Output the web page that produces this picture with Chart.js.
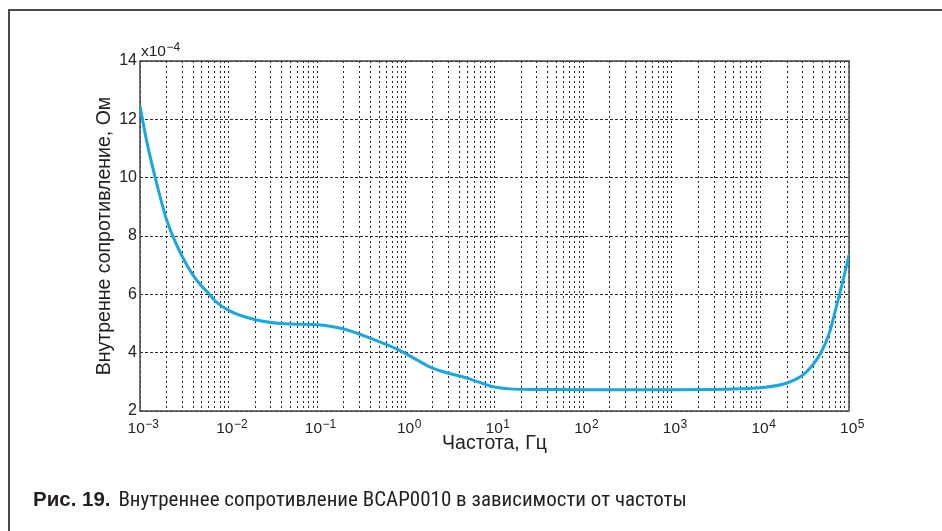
<!DOCTYPE html>
<html lang="ru">
<head>
<meta charset="utf-8">
<script src="https://cdn.jsdelivr.net/npm/chart.js@4"></script>
<style>
  html, body { margin: 0; padding: 0; background: #fff; }
  #wrap { position: relative; width: 942px; height: 531px; overflow: hidden; }
  #frame {
    position: absolute; left: 8px; top: 9px; width: 1000px; height: 600px;
    border-left: 2px solid #4a4a4a; border-top: 2px solid #4a4a4a;
  }
  #chart { position: absolute; left: 0; top: 0; }
  #caption {
    position: absolute; left: 33px; top: 487px;
    font-family: "Liberation Sans Narrow", "Roboto Condensed", "Liberation Sans", sans-serif;
    font-size: 21px; color: #231f20; white-space: nowrap;
  }
  #caption b { font-family: "Liberation Sans", Arial, sans-serif; font-weight: 900; font-size: 20.5px; margin-right: 3px; }
</style>
</head>
<body>
<div id="wrap">
  <div id="frame"></div>
  <canvas id="chart" width="942" height="531"></canvas>
  <div id="caption"><b>Рис. 19.</b> Внутреннее сопротивление BCAP0010 в зависимости от частоты</div>
</div>
<script>
// frequency, Hz
const frequency = [1e-3, 1.2e-3, 1.5e-3, 2e-3, 3e-3, 4e-3, 5e-3, 6e-3, 7e-3, 1e-2, 2e-2, 5e-2,
    0.1, 0.2, 0.4, 0.85, 1.3, 2, 5, 10, 16, 30, 100, 1000, 6000,
    1e4, 2e4, 3.2e4, 4.8e4, 6e4, 7.2e4, 8.6e4, 1e5];
// internal resistance, x10^-4 Ohm
const resistance = [12.45, 11.2, 9.95, 8.55, 7.29, 6.64, 6.27, 6.02, 5.78, 5.45, 5.13, 4.98,
    4.96, 4.81, 4.49, 4.08, 3.77, 3.47, 3.12, 2.82, 2.75, 2.74, 2.73, 2.73, 2.76,
    2.8, 2.96, 3.3, 3.99, 4.67, 5.58, 6.5, 7.35];
const xTickExponents = [-3, -2, -1, 0, 1, 2, 3, 4, 5];
const yTicks = [2, 4, 6, 8, 10, 12, 14];
const yMultiplierExp = -4;

const FONT = '"Liberation Sans", Arial, sans-serif';

// every 1..9 x 10^k position for the log grid
const xGridValues = [];
xTickExponents.forEach(function(e, i) {
    const last = i === xTickExponents.length - 1;
    for (let m = 1; m <= (last ? 1 : 9); m++) {
        xGridValues.push(m * Math.pow(10, e));
    }
});

function supLabel(ctx, x, y, exp, align) {
    const base = '10';
    const sup = String(exp).replace('-', '\u2212');
    ctx.font = '15.5px ' + FONT;
    const wb = ctx.measureText(base).width;
    ctx.font = '12px ' + FONT;
    const ws = ctx.measureText(sup).width;
    let x0 = align === 'center' ? x - (wb + ws) / 2 : x;
    ctx.textBaseline = 'alphabetic';
    ctx.textAlign = 'left';
    ctx.font = '15.5px ' + FONT;
    ctx.fillText(base, x0, y);
    ctx.font = '12px ' + FONT;
    ctx.fillText(sup, x0 + wb + 0.5, y - 5.5);
    return x0;
}

const framePlugin = {
    id: 'frame',
    beforeDatasetsDraw(chart) {
        const a = chart.chartArea;
        const ctx = chart.ctx;
        ctx.save();
        ctx.strokeStyle = '#444';
        ctx.lineWidth = 1.5;
        ctx.strokeRect(a.left, a.top, a.right - a.left, a.bottom - a.top);
        ctx.restore();
    },
    afterDraw(chart) {
        const ctx = chart.ctx;
        const xs = chart.scales.x;
        const a = chart.chartArea;
        ctx.save();
        ctx.fillStyle = '#222';
        xTickExponents.forEach(function(e) {
            const px = xs.getPixelForValue(Math.pow(10, e));
            supLabel(ctx, px + 3, a.bottom + 22, e, 'center');
        });
        // axis multiplier
        ctx.font = '15.5px ' + FONT;
        ctx.textAlign = 'left';
        ctx.fillText('x', a.left + 1, a.top - 5);
        const wx = ctx.measureText('x').width;
        supLabel(ctx, a.left + 1 + wx, a.top - 5, yMultiplierExp, 'left');
        ctx.restore();
    }
};

new Chart(document.getElementById('chart'), {
    type: 'line',
    data: {
        datasets: [{
            data: frequency.map(function(f, i) { return {x: f, y: resistance[i]}; }),
            borderColor: '#17a8e2',
            borderWidth: 3,
            pointRadius: 0,
            cubicInterpolationMode: 'monotone',
            fill: false
        }]
    },
    options: {
        responsive: false,
        animation: false,
        layout: { padding: { left: 93, top: 61, right: 93, bottom: 76 } },
        plugins: { legend: { display: false }, tooltip: { enabled: false } },
        scales: {
            x: {
                type: 'logarithmic',
                min: 1e-3,
                max: 1e5,
                afterBuildTicks: function(scale) {
                    scale.ticks = xGridValues.map(function(v) { return {value: v}; });
                },
                afterFit: function(scale) { scale.height = 44; },
                ticks: { display: false, autoSkip: false },
                grid: { color: '#2a2a2a', lineWidth: 1, drawTicks: false },
                border: { display: false, dash: [2, 3] },
                title: {
                    display: true,
                    text: 'Частота, Гц',
                    color: '#222',
                    font: { family: FONT, size: 19.5 },
                    padding: 0
                }
            },
            y: {
                min: yTicks[0],
                max: yTicks[yTicks.length - 1],
                afterBuildTicks: function(scale) {
                    scale.ticks = yTicks.map(function(v) { return {value: v}; });
                },
                afterFit: function(scale) { scale.width = 47; },
                ticks: {
                    color: '#222',
                    padding: 3,
                    font: { family: FONT, size: 16 }
                },
                grid: { color: '#2a2a2a', lineWidth: 1, drawTicks: false },
                border: { display: false, dash: [3, 2] },
                title: {
                    display: true,
                    text: 'Внутренне сопротивление, Ом',
                    color: '#222',
                    font: { family: FONT, size: 19.5 },
                    padding: 0
                }
            }
        }
    },
    plugins: [framePlugin]
});
</script>
</body>
</html>
